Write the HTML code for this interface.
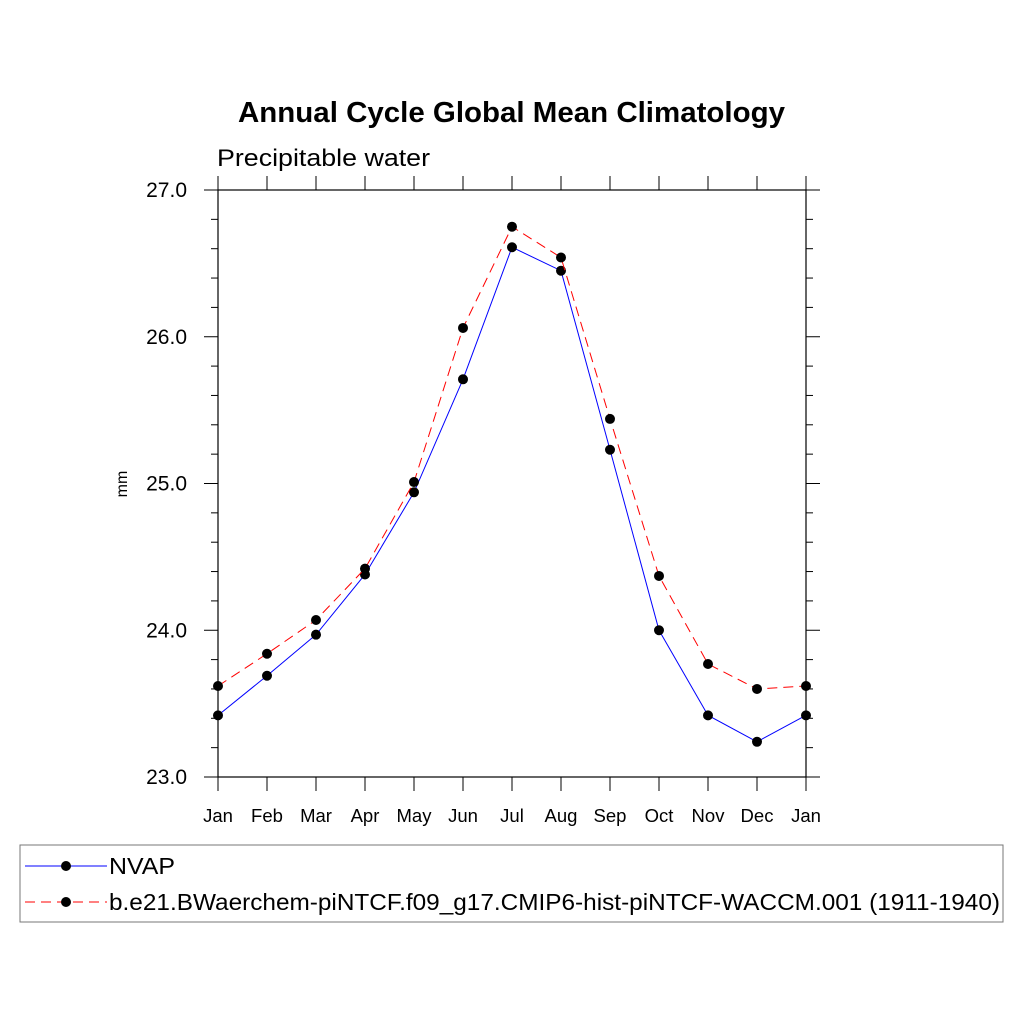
<!DOCTYPE html>
<html><head><meta charset="utf-8"><style>body{margin:0;background:#fff}svg{display:block}</style></head>
<body>
<svg id="chart" width="1024" height="1024" viewBox="0 0 1024 1024" font-family="Liberation Sans, sans-serif">
<rect width="1024" height="1024" fill="#fff"/>
<text x="238" y="122" font-size="29" font-weight="bold" textLength="547" lengthAdjust="spacingAndGlyphs">Annual Cycle Global Mean Climatology</text>
<text x="217" y="166" font-size="24" textLength="213" lengthAdjust="spacingAndGlyphs">Precipitable water</text>
<text transform="translate(127,484) rotate(-90)" text-anchor="middle" font-size="16">mm</text>
<g id="axes"></g>
<g id="series"></g>
<rect x="20" y="845" width="983" height="77" fill="none" stroke="#777" stroke-width="1"/>
<g>
<line x1="25" y1="866" x2="107" y2="866" stroke="#00f" stroke-width="1"/>
<circle cx="66" cy="866" r="5" fill="#000"/>
<text x="109" y="874" font-size="23" textLength="66" lengthAdjust="spacingAndGlyphs">NVAP</text>
</g>
<g>
<line x1="25" y1="902" x2="107" y2="902" stroke="#f00" stroke-width="1" stroke-dasharray="10,6"/>
<circle cx="66" cy="902" r="5" fill="#000"/>
<text x="109" y="910" font-size="23" textLength="891" lengthAdjust="spacingAndGlyphs">b.e21.BWaerchem-piNTCF.f09_g17.CMIP6-hist-piNTCF-WACCM.001 (1911-1940)</text>
</g>
</svg>
<script>
const months = ["Jan","Feb","Mar","Apr","May","Jun","Jul","Aug","Sep","Oct","Nov","Dec","Jan"];
const nvap = [23.42,23.69,23.97,24.38,24.94,25.71,26.61,26.45,25.23,24.00,23.42,23.24,23.42];
const model = [23.62,23.84,24.07,24.42,25.01,26.06,26.75,26.54,25.44,24.37,23.77,23.60,23.62];
const yTicks = [23,24,25,26,27];
const yTickLabels = ["23.0","24.0","25.0","26.0","27.0"];
const X0=218,X1=806,Y0=777,Y1=190,YMIN=23,YMAX=27;
const xs=i=>X0+i*(X1-X0)/(months.length-1);
const ys=v=>Y0-(v-YMIN)*(Y0-Y1)/(YMAX-YMIN);
const NS="http://www.w3.org/2000/svg";
function mk(tag,attrs,parent){const e=document.createElementNS(NS,tag);for(const k in attrs)e.setAttribute(k,attrs[k]);parent.appendChild(e);return e;}
const ax=document.getElementById('axes');
const frame=mk('rect',{x:X0,y:Y1,width:X1-X0,height:Y0-Y1,fill:'none',stroke:'#000','stroke-width':1.2},ax);


for(let v=YMIN;v<=YMAX+1e-6;v+=0.2){
  const y=ys(v);const major=Math.abs(v-Math.round(v))<1e-6;const L=major?14:7;
  const t1=mk('line',{x1:X0-L,y1:y,x2:X0,y2:y,stroke:'#000','stroke-width':1},ax);
  
  
  const t2=mk('line',{x1:X1,y1:y,x2:X1+L,y2:y,stroke:'#000','stroke-width':1},ax);
  
  
}
yTicks.forEach((v,i)=>{
  const t=mk('text',{x:X0-31,y:ys(v)+7,'text-anchor':'end','font-size':21},ax);t.textContent=yTickLabels[i];
  
  
});
months.forEach((m,i)=>{
  const x=xs(i);
  const a=mk('line',{x1:x,y1:Y0,x2:x,y2:Y0+14,stroke:'#000','stroke-width':1},ax);
  
  
  const b=mk('line',{x1:x,y1:Y1-14,x2:x,y2:Y1,stroke:'#000','stroke-width':1},ax);
  
  
  const t=mk('text',{x:x,y:822,'text-anchor':'middle','font-size':18.5},ax);t.textContent=m;
  
  
});
const sg=document.getElementById('series');
function draw(vals,color,dash,name){
  const p=mk('polyline',{points:vals.map((v,i)=>xs(i)+','+ys(v)).join(' '),fill:'none',stroke:color,'stroke-width':1,'stroke-dasharray':dash},sg);
  
  
  vals.forEach((v,i)=>{
    const c=mk('circle',{cx:xs(i),cy:ys(v),r:5,fill:'#000'},sg);
    
    
  });
}
draw(nvap,'#00f','none','nvap');
draw(model,'#f00','10,6','model');
</script>
</body></html>
